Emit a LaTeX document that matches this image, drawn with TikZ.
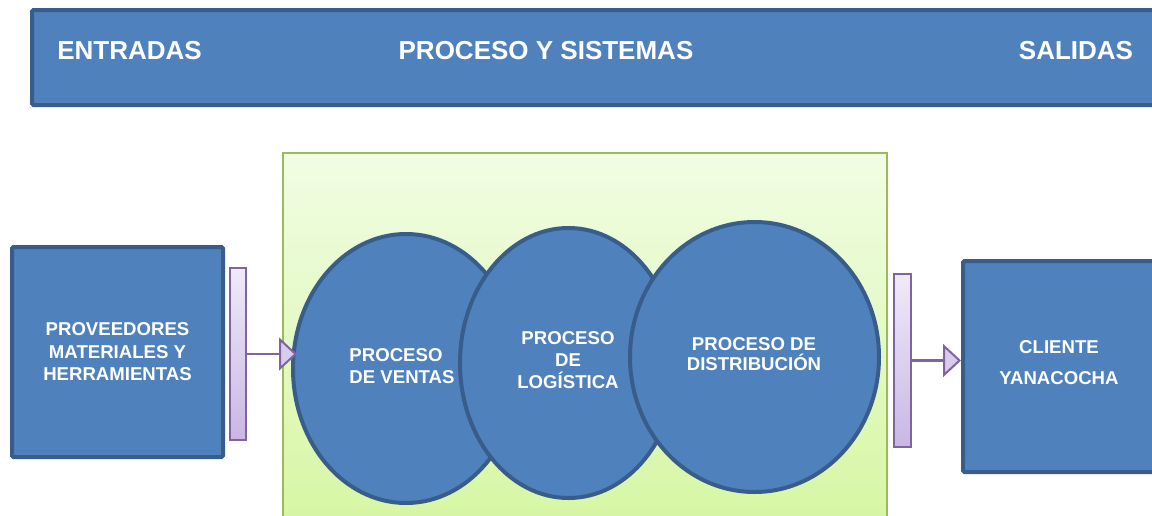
\documentclass[tikz,border=0pt]{standalone}
\usepackage{fontspec}
\setmainfont{Liberation Sans}
\usetikzlibrary{shapes.geometric,arrows.meta}
\definecolor{bluefill}{HTML}{4F81BD}
\definecolor{blueline}{HTML}{385D8A}
\definecolor{greenline}{HTML}{9BBB59}
\definecolor{greentop}{HTML}{F1FDE4}
\definecolor{greenbot}{HTML}{D6F6A2}
\definecolor{purpline}{HTML}{8064A2}
\definecolor{lavtop}{HTML}{EFEAF8}
\definecolor{lavbot}{HTML}{C9B7E3}
\definecolor{lavtip}{HTML}{D8CBEC}
\tikzset{
  bluebox/.style={draw=blueline, fill=bluefill, line width=4pt, rounded corners=1.5pt},
  procellipse/.style={ellipse, draw=blueline, fill=bluefill, line width=4pt, inner sep=0pt},
  wtext/.style={text=white, font=\fontsize{18.6}{22.5}\selectfont\bfseries, inner sep=0pt},
  titletext/.style={text=white, font=\fontsize{26}{30}\selectfont\bfseries, inner sep=0pt},
  barbox/.style={draw=purpline, line width=2pt, top color=lavtop, bottom color=lavbot, inner sep=0pt},
  flowarrow/.style={draw=purpline, line width=2.5pt, -{Triangle[length=18pt,width=33pt,fill=lavtip,line width=2pt]}},
}
\begin{document}
\begin{tikzpicture}[x=1pt,y=-1pt]
\useasboundingbox (0,0) rectangle (1152,515);
\clip (0,0) rectangle (1152,515);
\fill[white] (0,0) rectangle (1152,515);

% top banner
\draw[bluebox] (32,10) rectangle (1165,105);
\node[titletext] (tin) at (129.5,50.5) {ENTRADAS};
\node[titletext] (tproc) at (546,50.5) {PROCESO Y SISTEMAS};
\node[titletext] (tout) at (1076,50.5) {SALIDAS};

% green process area
\draw[draw=greenline, line width=2pt, top color=greentop, bottom color=greenbot] (283,153) rectangle (887,530);

% input box
\node[bluebox, minimum width=211pt, minimum height=210pt, inner sep=0pt] (prov) at (117.5,352) {};
\node[wtext, align=center] (provtxt) at (117.5,352) {PROVEEDORES\\MATERIALES Y\\HERRAMIENTAS};

% output box
\node[bluebox, minimum width=220pt, minimum height=211pt, inner sep=0pt] (cli) at (1073,366.5) {};
\node[wtext, align=center, font=\fontsize{18.6}{31}\selectfont\bfseries] (clitxt) at (1059,362.5) {CLIENTE\\YANACOCHA};

% ellipses
\node[procellipse, minimum width=226pt, minimum height=269pt] (e1) at (406,368.5) {};
\node[procellipse, minimum width=217pt, minimum height=270pt] (e2) at (568.5,363) {};
\node[procellipse, minimum width=249pt, minimum height=270pt] (e3) at (754.5,357) {};
\node[wtext, align=left] (e1txt) at (402,366) {PROCESO\\DE VENTAS};
\node[wtext, align=center, font=\fontsize{18.6}{21.7}\selectfont\bfseries] (e2txt) at (568,360) {PROCESO\\DE\\LOGÍSTICA};
\node[wtext, align=center, font=\fontsize{18.6}{20.5}\selectfont\bfseries] (e3txt) at (754,354) {PROCESO DE\\DISTRIBUCIÓN};

% bars and arrows
\node[barbox, minimum width=16pt, minimum height=172pt] (bar1) at (238,354) {};
\node[barbox, minimum width=17pt, minimum height=173pt] (bar2) at (902.5,360.5) {};
\coordinate (tip1) at (297,354);
\coordinate (tip2) at (961,360.5);
\draw[flowarrow] (bar1.east) -- (tip1);
\draw[flowarrow] (bar2.east) -- (tip2);
\end{tikzpicture}
\end{document}
